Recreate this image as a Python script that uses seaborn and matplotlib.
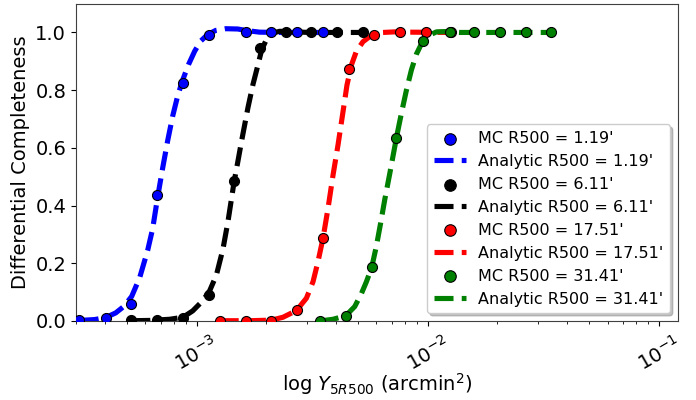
import numpy as np
import pandas as pd
import matplotlib
matplotlib.use("Agg")
import matplotlib.pyplot as plt
import seaborn as sns

# ---------------- data ----------------
radii = ["1.19'", "6.11'", "17.51'", "31.41'"]
colors = ["blue", "black", "red", "green"]

# Monte-Carlo points
mc_x_blue = [3.11e-4, 4.04e-4, 5.22e-4, 6.73e-4, 8.72e-4, 1.127e-3, 1.63e-3, 2.106e-3, 2.729e-3, 3.521e-3]
mc_y_blue = [0.003, 0.009, 0.058, 0.437, 0.824, 0.991, 1.0, 1.0, 1.0, 1.0]
mc_x_black = [5.22e-4, 6.73e-4, 8.72e-4, 1.127e-3, 1.45e-3, 1.874e-3, 2.444e-3, 3.137e-3, 4.049e-3, 5.248e-3]
mc_y_black = [0.003, 0.003, 0.009, 0.09, 0.486, 0.945, 1.0, 1.0, 1.0, 1.0]
mc_x_red = [1.258e-3, 1.63e-3, 2.106e-3, 2.72e-3, 3.521e-3, 4.548e-3, 5.853e-3, 7.564e-3, 9.802e-3, 1.267e-2]
mc_y_red = [0.001, 0.001, 0.001, 0.038, 0.287, 0.873, 0.991, 1.0, 1.0, 1.0]
mc_x_green = [3.408e-3, 4.416e-3, 5.721e-3, 7.318e-3, 9.543e-3, 1.245e-2, 1.586e-2, 2.056e-2, 2.655e-2, 3.43e-2]
mc_y_green = [0.001, 0.017, 0.186, 0.635, 0.972, 1.0, 1.0, 1.0, 1.0, 1.0]

# Analytic curves, x given as log10(Y)
an_logx_blue = [-3.5065, -3.4416, -3.3939, -3.3506, -3.3160, -3.2814, -3.2468, -3.2121, -3.1905,
                -3.1688, -3.1472, -3.1255, -3.1039, -3.0823, -3.0606, -3.0346, -3.0087, -2.9827,
                -2.9524, -2.9177, -2.8745, -2.8225, -2.7792, -2.7273, -2.6407, -2.4532]
an_y_blue = [0.002, 0.005, 0.012, 0.028, 0.05, 0.085, 0.15, 0.245, 0.32,
             0.43, 0.53, 0.625, 0.71, 0.78, 0.835, 0.89, 0.935, 0.97,
             0.993, 1.007, 1.013, 1.012, 1.006, 1.001, 1.0, 1.0]
an_logx_black = [-3.2827, -3.2035, -3.1169, -3.0593, -3.0173, -2.9740, -2.9437, -2.9147, -2.8861,
                 -2.8645, -2.8385, -2.8212, -2.8065, -2.7779, -2.7563, -2.7346, -2.7186, -2.6983,
                 -2.6766, -2.6407, -2.5758, -2.5108, -2.2802]
an_y_black = [0.001, 0.002, 0.006, 0.013, 0.035, 0.07, 0.105, 0.159, 0.25,
              0.345, 0.48, 0.555, 0.62, 0.74, 0.82, 0.888, 0.94, 0.975,
              0.997, 1.004, 1.002, 1.0, 1.0]
an_logx_red = [-2.9004, -2.7706, -2.6766, -2.6264, -2.5684, -2.5251, -2.4965, -2.4749, -2.4532,
               -2.4316, -2.4100, -2.3883, -2.3667, -2.3494, -2.3303, -2.3087, -2.2801, -2.2437,
               -2.1935, -2.1429, -2.0779, -1.8974]
an_y_red = [0.001, 0.001, 0.003, 0.013, 0.036, 0.079, 0.136, 0.206, 0.287,
            0.39, 0.505, 0.61, 0.725, 0.818, 0.887, 0.935, 0.968, 0.99,
            1.0, 1.002, 1.001, 1.0]
an_logx_green = [-2.4675, -2.4100, -2.3550, -2.3160, -2.2870, -2.2654, -2.2424, -2.2221, -2.2048,
                 -2.1861, -2.1645, -2.1355, -2.1139, -2.0922, -2.0706, -2.0489, -2.0203, -1.9913,
                 -1.9623, -1.9264, -1.8615, -1.4645]
an_y_green = [0.0, 0.006, 0.018, 0.05, 0.095, 0.136, 0.186, 0.26, 0.335,
              0.42, 0.51, 0.635, 0.72, 0.80, 0.87, 0.925, 0.972, 0.991,
              1.002, 1.003, 1.0, 1.0]

mc_x = [mc_x_blue, mc_x_black, mc_x_red, mc_x_green]
mc_y = [mc_y_blue, mc_y_black, mc_y_red, mc_y_green]
an_logx = [an_logx_blue, an_logx_black, an_logx_red, an_logx_green]
an_y = [an_y_blue, an_y_black, an_y_red, an_y_green]

xlabel = r"log $Y_{5R500}$ (arcmin$^2$)"
ylabel = "Differential Completeness"

# ---------------- plot ----------------
fig = plt.figure(figsize=(6.96, 4.0), dpi=100)
ax = fig.add_axes([0.109, 0.1975, 0.865, 0.7935])

for r, c, xs, ys, lx, ly in zip(radii, colors, mc_x, mc_y, an_logx, an_y):
    mc_df = pd.DataFrame({"x": xs, "y": ys})
    an_df = pd.DataFrame({"x": 10 ** np.asarray(lx), "y": ly})
    sns.scatterplot(data=mc_df, x="x", y="y", color=c, s=52, edgecolor="black",
                    linewidth=0.8, label=f"MC R500 = {r}", ax=ax, zorder=3)
    sns.lineplot(data=an_df, x="x", y="y", color=c, linestyle="--", linewidth=3.7,
                 sort=False, estimator=None, label=f"Analytic R500 = {r}", ax=ax, zorder=2)

ax.set_xscale("log")
ax.set_xlim(3.0e-4, 0.121)
ax.set_ylim(0.0, 1.1)
ax.set_yticks([0.0, 0.2, 0.4, 0.6, 0.8, 1.0])
ax.tick_params(axis="both", labelsize=14)
ax.tick_params(axis="x", labelrotation=30, pad=5)
ax.set_xlabel(xlabel, fontsize=14)
ax.xaxis.set_label_coords(0.5, -0.158)
ax.set_ylabel(ylabel, fontsize=14)
for s in ax.spines.values():
    s.set_color("0.25")

ax.legend(loc="lower right", fontsize=11.5, shadow={"color": "0.6", "alpha": 0.6},
          framealpha=1.0, markerscale=1.15)

fig.savefig("out.png", dpi=100)
